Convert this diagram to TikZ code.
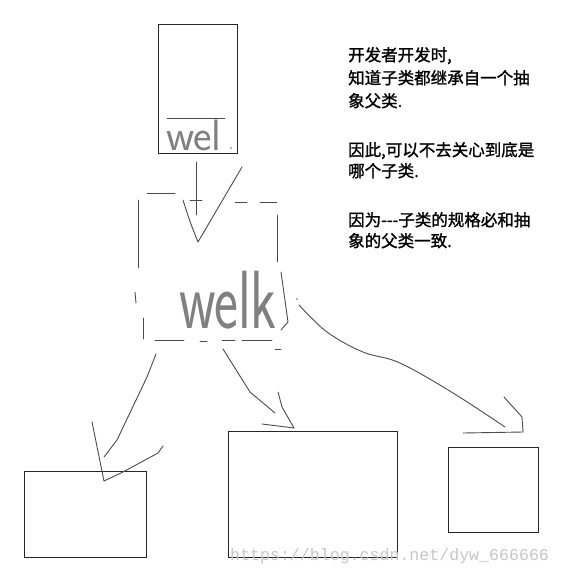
\documentclass[tikz,border=0pt]{standalone}
\usepackage{fontspec}
\newfontfamily\cjk[FakeBold=1.3]{Noto Sans CJK SC}
\newfontfamily\wmfont{Liberation Mono}
\tikzset{
  box/.style={draw=black!85, line width=1pt, inner sep=0pt, outer sep=0pt, anchor=north west},
  stroke/.style={draw=black!70, line width=0.9pt, line join=round, line cap=round},
  hand/.style={text=black!50, inner sep=0pt, anchor=base west},
  cjkline/.style={anchor=base west, inner sep=0pt, font=\cjk\fontsize{16.5}{16.5}\selectfont},
  watermark/.style={anchor=base west, inner sep=0pt, text=black!22, font=\wmfont\fontsize{16.6}{16.6}\selectfont}
}
\begin{document}
\begin{tikzpicture}[x=1pt,y=-1pt]
\useasboundingbox[fill=white] (0,0) rectangle (562,576);

% top box (parent drawn)
\node[box, minimum width=79pt, minimum height=129pt] (top) at (158,24) {};
\coordinate (topsepL) at (167,118);
\coordinate (topsepR) at (225,118);
\draw[stroke] (topsepL) -- (topsepR);
\node[hand, font=\sffamily\fontsize{44}{44}\selectfont] (toplabel) at (166,150) {wel};
\fill[black!60] (231,148) circle (0.8);

% arrow from top box to dashed box
\coordinate (a1s) at (196,162);
\coordinate (a1e) at (196,215);
\draw[stroke] (a1s) -- (a1e);
\coordinate (a1tip) at (198,242);
\draw[stroke] (183,200) .. controls (190,222) .. (a1tip) -- (242,167);

% dashed abstract box
\draw[stroke] (147,193) -- (175,193);
\draw[stroke] (190,200) -- (202,200);
\draw[stroke] (235,202) -- (247,202);
\draw[stroke] (260,202) -- (277,202);
\draw[stroke] (138,200) -- (138,268);
\draw[stroke] (135,292) -- (136,303);
\draw[stroke] (143,318) -- (143,339);
\draw[stroke] (155,340) -- (184,340);
\draw[stroke] (200,341) -- (207,341);
\draw[stroke] (222,340) -- (235,340);
\draw[stroke] (242,340) -- (272,340);
\draw[stroke] (275,349) -- (281,349);
\draw[stroke] (277,215) -- (277,262);
\draw[stroke] (281,272) -- (288,322) -- (281,330);
\fill[black!60] (297,299) circle (0.8);
\node[hand, font=\sffamily] (midlabel) at (179,328) {\scalebox{1}[1.45]{\fontsize{57}{57}\selectfont welk}};

% child boxes
\node[box, minimum width=122pt, minimum height=86pt] (c1) at (24,471) {};
\node[box, minimum width=169pt, minimum height=126pt] (c2) at (228,431) {};
\node[box, minimum width=90pt, minimum height=85pt] (c3) at (448,447) {};

% arrow to child 1
\coordinate (b1s) at (156,354);
\coordinate (b1tip) at (104,481);
\draw[stroke] (b1s) -- (147,377) -- (117,440) -- (104,457);
\draw[stroke] (92,422) -- (b1tip) -- (123,472) -- (158,453) -- (163,446);

% arrow to child 2
\coordinate (b2s) at (223,349);
\coordinate (b2tip) at (294,428);
\draw[stroke] (b2s) -- (250,392) -- (275,413);
\draw[stroke] (278,392) -- (282,407) -- (b2tip);
\draw[stroke] (262,424) -- (b2tip);

% arrow to child 3
\coordinate (b3s) at (299,305);
\coordinate (b3tip) at (523,432);
\draw[stroke] plot[smooth, tension=0.6] coordinates {(b3s) (327,332) (363,352) (400,363) (453,393) (505,427)};
\draw[stroke] (504,397) -- (522,417) -- (b3tip);
\draw[stroke] (463,433) -- (b3tip);

% explanatory text
\node[cjkline] (t1) at (348,61) {开发者开发时,};
\node[cjkline] (t2) at (348,84) {知道子类都继承自一个抽};
\node[cjkline] (t3) at (348,107) {象父类.};
\node[cjkline] (t4) at (348,156) {因此,可以不去关心到底是};
\node[cjkline] (t5) at (348,177) {哪个子类.};
\node[cjkline] (t6) at (348,226) {因为---子类的规格必和抽};
\node[cjkline] (t7) at (348,247) {象的父类一致.};

% watermark
\node[watermark] (wm) at (230,560) {https://blog.csdn.net/dyw\_666666};
\end{tikzpicture}
\end{document}
